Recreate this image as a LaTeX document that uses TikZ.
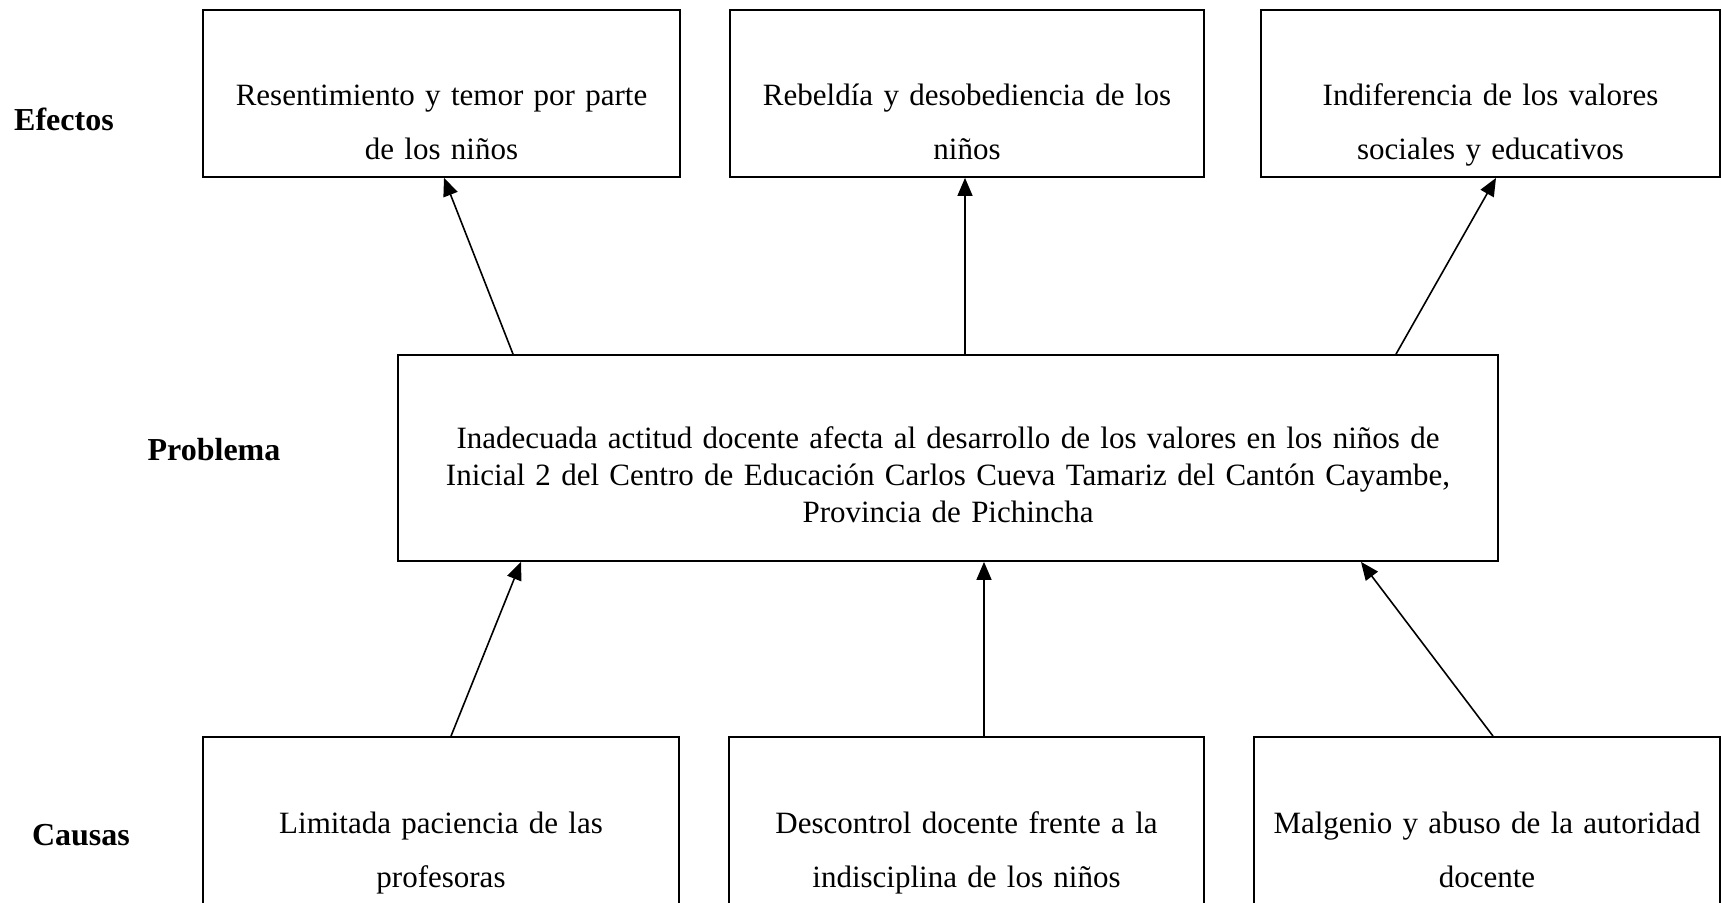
\documentclass[tikz,border=0pt]{standalone}
\usepackage{fontspec}
\setmainfont{Liberation Serif}
\usetikzlibrary{arrows.meta,calc}

\begin{document}
\begin{tikzpicture}[x=0.5pt,y=-0.5pt,
    box/.style={draw,line width=0.9pt,inner xsep=0pt,inner ysep=0pt,align=center,
      font=\fontsize{15.5}{27}\selectfont},
    sidebox/.style={box,execute at begin node={\rule{0pt}{48pt}},
      execute at end node={\rule[-8.5pt]{0pt}{8.5pt}}},
    probbox/.style={box,font=\fontsize{15.5}{18.5}\selectfont,
      execute at begin node={\rule{0pt}{46.5pt}},
      execute at end node={\rule[-19.5pt]{0pt}{19.5pt}}},
    lbl/.style={font=\fontsize{16}{19}\selectfont\bfseries},
    arr/.style={-{Triangle[length=9pt,width=7.5pt]},line width=0.8pt}]
    \useasboundingbox (0,0) rectangle (1722,903);
    % row labels
    \node[lbl] (efectos) at (64,119) {Efectos};
    \node[lbl] (problema) at (214,450) {Problema};
    \node[lbl] (causas) at (81,835) {Causas};
    % effects
    \node[sidebox,text width=238.5pt] (e1) at (441.5,93.5) {Resentimiento y temor por parte\\de los niños};
    \node[sidebox,text width=237pt] (e2) at (967,93.5) {Rebeldía y desobediencia de los\\niños};
    \node[sidebox,text width=229.5pt] (e3) at (1490.5,93.5) {Indiferencia de los valores\\sociales y educativos};
    % problem
    \node[probbox,text width=550pt] (prob) at (948,458) {Inadecuada actitud docente afecta al desarrollo de los valores en los niños de\\Inicial 2 del Centro de Educación Carlos Cueva Tamariz del Cantón Cayambe,\\Provincia de Pichincha};
    % causes
    \node[sidebox,text width=238pt] (c1) at (441,820.5) {Limitada paciencia de las\\profesoras};
    \node[sidebox,text width=237.5pt] (c2) at (966.5,820.5) {Descontrol docente frente a la\\indisciplina de los niños};
    \node[sidebox,text width=233pt] (c3) at (1487,820.5) {Malgenio y abuso de la autoridad\\docente};
    % problem -> effects
    \draw[arr] ($(prob.north)+(-435,0)$) -- ($(e1.south)+(2.5,0)$);
    \draw[arr] ($(prob.north)+(17,0)$) -- ($(e2.south)+(-2,0)$);
    \draw[arr] ($(prob.north)+(448,0)$) -- ($(e3.south)+(5.5,0)$);
    % causes -> problem
    \draw[arr] ($(c1.north)+(10,0)$) -- ($(prob.south)+(-427,0)$);
    \draw[arr] ($(c2.north)+(17.5,0)$) -- ($(prob.south)+(36,0)$);
    \draw[arr] ($(c3.north)+(6,0)$) -- ($(prob.south)+(413,0)$);
\end{tikzpicture}
\end{document}
